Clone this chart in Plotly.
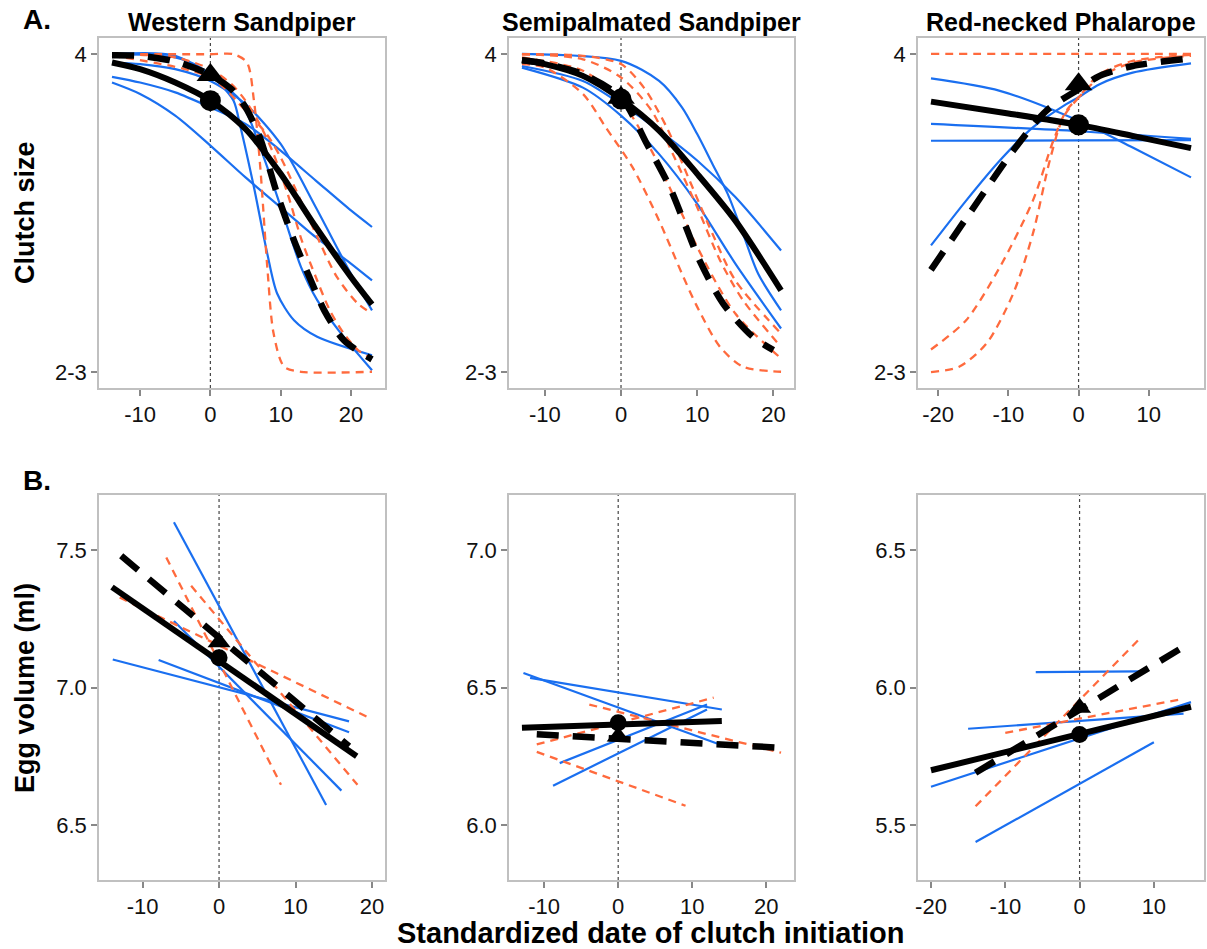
import plotly.graph_objects as go

# ---------------- DATA ----------------
# Row A: clutch size (probability scale, 0 = "2-3", 1 = "4")
ws_clutch_mean_x = [-14, -10, -5, 0, 5, 10, 15, 20, 23]
ws_clutch_mean_y = [0.973, 0.952, 0.910, 0.853, 0.764, 0.623, 0.456, 0.299, 0.213]
ws_clutch_dash_x = [-14, -10, -5, 0, 3, 5, 7, 9.5, 11.9, 14.3, 16.2, 19, 23]
ws_clutch_dash_y = [0.996, 0.994, 0.976, 0.934, 0.889, 0.832, 0.74, 0.56, 0.414, 0.288, 0.194, 0.100, 0.04]
ws_clutch_blue = [
    ([-14, -10, -5, 0, 5, 10, 15, 20, 23], [0.928, 0.910, 0.879, 0.832, 0.780, 0.696, 0.602, 0.508, 0.456]),
    ([-14, -10, -5, 0, 5, 10, 15, 20, 23], [0.910, 0.874, 0.806, 0.712, 0.612, 0.518, 0.424, 0.341, 0.288]),
    ([-14, -5, -1.4, 1.4, 3.3, 4.3, 6.2, 8.1, 9.5, 11.9, 15.2, 23], [0.999, 0.989, 0.957, 0.905, 0.853, 0.769, 0.581, 0.372, 0.247, 0.163, 0.111, 0.053]),
    ([-14, -5, 1, 4.3, 7.6, 10.5, 12.9, 15.2, 18.6, 23], [0.999, 0.994, 0.915, 0.853, 0.675, 0.487, 0.330, 0.226, 0.121, 0.006]),
    ([-14, -10, -5, 0, 5, 10, 15, 20, 23], [0.973, 0.968, 0.952, 0.915, 0.842, 0.717, 0.518, 0.309, 0.194]),
]
ws_clutch_orange = [
    ([-14, 0, 3.3, 5.2, 6.2, 7.1, 8.1, 9, 10.5, 12.9, 23], [0.999, 0.999, 0.999, 0.973, 0.853, 0.644, 0.330, 0.121, 0.017, 0.001, 0.001]),
    ([-14, -5, 0, 3, 5, 7, 9, 11, 13, 15, 17, 19, 21, 23], [0.999, 0.989, 0.952, 0.905, 0.853, 0.780, 0.685, 0.560, 0.414, 0.299, 0.194, 0.121, 0.069, 0.043]),
    ([-14, 0, 5, 8, 10, 12, 15, 18, 21, 23], [0.994, 0.926, 0.822, 0.748, 0.675, 0.581, 0.435, 0.299, 0.215, 0.184]),
]
ws_clutch_circle = (0, 0.853)
ws_clutch_triangle = (0, 0.934)

sp_clutch_mean_x = [-13, -10, -5, 0, 5, 10, 15, 21]
sp_clutch_mean_y = [0.980, 0.968, 0.931, 0.858, 0.759, 0.623, 0.476, 0.257]
sp_clutch_dash_x = [-13, -10, -5, 0, 3.4, 6.4, 8.2, 10.3, 13.4, 17.3, 20]
sp_clutch_dash_y = [0.980, 0.970, 0.936, 0.863, 0.717, 0.581, 0.476, 0.351, 0.215, 0.111, 0.069]
sp_clutch_blue = [
    ([-13, 0, 5, 8, 10, 12, 14, 16, 18, 21], [1.0, 0.978, 0.915, 0.832, 0.748, 0.654, 0.560, 0.435, 0.309, 0.194]),
    ([-13, -5, 0, 5, 10, 15, 21], [0.962, 0.915, 0.842, 0.759, 0.665, 0.550, 0.382]),
    ([-13, -5, 0, 5, 10, 15, 21], [0.957, 0.894, 0.806, 0.685, 0.529, 0.341, 0.137]),
]
sp_clutch_orange = [
    ([-13, -10, -5, -2, 1.5, 5, 8, 10, 13, 16, 21], [0.968, 0.957, 0.874, 0.769, 0.644, 0.476, 0.309, 0.205, 0.079, 0.017, 0.001]),
    ([-13, -5, 0, 4, 8, 10, 15, 21], [0.989, 0.947, 0.853, 0.696, 0.497, 0.393, 0.184, 0.043]),
    ([-13, -5, 0, 4, 7, 10, 13, 16, 21], [0.999, 0.983, 0.926, 0.822, 0.675, 0.518, 0.351, 0.226, 0.079]),
    ([-13, -5, 0, 3, 6, 9, 12, 15, 21], [0.999, 0.994, 0.968, 0.894, 0.769, 0.602, 0.435, 0.288, 0.121]),
]
sp_clutch_circle = (0, 0.858)
sp_clutch_triangle = (0, 0.862)

rp_clutch_mean_x = [-21, -10, 0, 8, 16]
rp_clutch_mean_y = [0.850, 0.813, 0.777, 0.741, 0.704]
rp_clutch_dash_x = [-21, -15.5, -9.3, -4.6, 0, 3, 7.7, 16]
rp_clutch_dash_y = [0.321, 0.499, 0.696, 0.821, 0.889, 0.931, 0.962, 0.986]
rp_clutch_blue = [
    ([-21, -16, -11.2, -6.5, -1.75, 0, 3, 7.7, 16], [0.398, 0.539, 0.665, 0.769, 0.842, 0.864, 0.905, 0.941, 0.970]),
    ([-21, -11.2, 0, 7.7, 16], [0.923, 0.884, 0.790, 0.706, 0.612]),
    ([-21, 0, 16], [0.780, 0.757, 0.733]),
    ([-21, 0, 16], [0.727, 0.728, 0.729]),
]
rp_clutch_orange = [
    ([-21, 0, 16], [1.0, 1.0, 1.0]),
    ([-21, -16, -11.2, -6.5, -3.6, -1.75, 0, 3, 7.7, 16], [0.071, 0.163, 0.330, 0.539, 0.727, 0.821, 0.863, 0.926, 0.973, 0.994]),
    ([-21, -17, -13.1, -9.3, -6.5, -4.1, -2.2, 0, 3, 7.7, 16], [0.0, 0.017, 0.090, 0.247, 0.435, 0.665, 0.800, 0.863, 0.936, 0.978, 0.997]),
]
rp_clutch_circle = (0, 0.777)
rp_clutch_triangle = (0, 0.905)

# Row B: egg volume (ml), straight lines given by end points
ws_egg_mean_x = [-14, 18]
ws_egg_mean_y = [7.365, 6.75]
ws_egg_dash_x = [-12.8, 17]
ws_egg_dash_y = [7.479, 6.786]
ws_egg_blue = [([-5.9, 14.0], [7.601, 6.573]), ([-13.9, 17.0], [7.102, 6.877]),
               ([-7.9, 17.0], [7.100, 6.837]), ([-5.9, 16.0], [7.242, 6.625])]
ws_egg_orange = [([-13.0, 19.9], [7.327, 6.886]), ([-6.9, 8.1], [7.473, 6.646]),
                 ([-3.65, 18.1], [7.37, 6.646])]
ws_egg_circle = (0, 7.108)
ws_egg_triangle = (0, 7.165)

sp_egg_mean_x = [-13, 14]
sp_egg_mean_y = [6.354, 6.378]
sp_egg_dash_x = [-11, 21.8]
sp_egg_dash_y = [6.330, 6.281]
sp_egg_blue = [([-12.8, 14.0], [6.553, 6.290]), ([-11.9, 14.0], [6.535, 6.420]),
               ([-7.9, 12.0], [6.225, 6.438]), ([-8.8, 12.0], [6.143, 6.420])]
sp_egg_orange = [([-3.9, 22.0], [6.438, 6.263]), ([-11.0, 12.9], [6.293, 6.463]),
                 ([-11.0, 9.1], [6.266, 6.070])]
sp_egg_circle = (0, 6.372)
sp_egg_triangle = (0, 6.322)

rp_egg_mean_x = [-20, 15]
rp_egg_mean_y = [5.699, 5.930]
rp_egg_dash_x = [-14, 14]
rp_egg_dash_y = [5.690, 6.148]
rp_egg_blue = [([-5.9, 8.0], [6.056, 6.059]), ([-15.0, 14.0], [5.850, 5.905]),
               ([-20.0, 15.0], [5.639, 5.947]), ([-14.0, 10.0], [5.438, 5.801])]
rp_egg_orange = [([-14.0, 8.0], [5.568, 6.175]), ([-10.0, 14.0], [5.835, 5.959])]
rp_egg_circle = (0, 5.829)
rp_egg_triangle = (0, 5.926)

species = ["Western Sandpiper", "Semipalmated Sandpiper", "Red-necked Phalarope"]
clutch_ticks = [0, 1]
clutch_ticktext = ["2-3", "4"]
egg_ticks = [[6.5, 7.0, 7.5], [6.0, 6.5, 7.0], [5.5, 6.0, 6.5]]
x_ticks = [[-10, 0, 10, 20], [-10, 0, 10, 20], [-20, -10, 0, 10]]

# ---------------- STYLE / LAYOUT ----------------
W, H = 1207, 949
BLUE = "#1a6ff0"
ORANGE = "#ff6a3d"
FONT = "Liberation Sans, Arial, sans-serif"

xdom = [[99 / W, 385 / W], [509 / W, 794 / W], [918 / W, 1204 / W]]
ydomA = [1 - 388 / H, 1 - 38 / H]
ydomB = [1 - 880 / H, 1 - 495 / H]
xrangesA = [[-15.85, 24.85], [-14.7, 22.7], [-22.85, 17.85]]
xrangesB = [[-15.7, 21.7], [-14.75, 23.75], [-21.75, 16.75]]
yrangesB = [[6.3, 7.7], [5.8, 7.2], [5.3, 6.7]]

panels = [
    (ws_clutch_mean_x, ws_clutch_mean_y, ws_clutch_dash_x, ws_clutch_dash_y, ws_clutch_blue, ws_clutch_orange, ws_clutch_circle, ws_clutch_triangle),
    (sp_clutch_mean_x, sp_clutch_mean_y, sp_clutch_dash_x, sp_clutch_dash_y, sp_clutch_blue, sp_clutch_orange, sp_clutch_circle, sp_clutch_triangle),
    (rp_clutch_mean_x, rp_clutch_mean_y, rp_clutch_dash_x, rp_clutch_dash_y, rp_clutch_blue, rp_clutch_orange, rp_clutch_circle, rp_clutch_triangle),
    (ws_egg_mean_x, ws_egg_mean_y, ws_egg_dash_x, ws_egg_dash_y, ws_egg_blue, ws_egg_orange, ws_egg_circle, ws_egg_triangle),
    (sp_egg_mean_x, sp_egg_mean_y, sp_egg_dash_x, sp_egg_dash_y, sp_egg_blue, sp_egg_orange, sp_egg_circle, sp_egg_triangle),
    (rp_egg_mean_x, rp_egg_mean_y, rp_egg_dash_x, rp_egg_dash_y, rp_egg_blue, rp_egg_orange, rp_egg_circle, rp_egg_triangle),
]

fig = go.Figure()
layout = {}
for i, p in enumerate(panels):
    n = i + 1
    xa = "x" if n == 1 else f"x{n}"
    ya = "y" if n == 1 else f"y{n}"
    rowA = i < 3
    shape = "spline" if rowA else "linear"
    mx, my, dx, dy, blues, oranges, circ, tri = p
    for bx, by in blues:
        fig.add_trace(go.Scatter(x=bx, y=by, mode="lines", xaxis=xa, yaxis=ya,
                                 line=dict(color=BLUE, width=2.2, shape=shape, smoothing=0.8)))
    for ox, oy in oranges:
        fig.add_trace(go.Scatter(x=ox, y=oy, mode="lines", xaxis=xa, yaxis=ya,
                                 line=dict(color=ORANGE, width=2.3, dash="8px,6px", shape=shape, smoothing=0.8)))
    fig.add_trace(go.Scatter(x=mx, y=my, mode="lines", xaxis=xa, yaxis=ya,
                             line=dict(color="black", width=6, shape=shape, smoothing=0.8)))
    fig.add_trace(go.Scatter(x=dx, y=dy, mode="lines", xaxis=xa, yaxis=ya,
                             line=dict(color="black", width=6.5, dash="22px,14px", shape=shape, smoothing=0.8)))
    msz = 21 if rowA else 17
    fig.add_trace(go.Scatter(x=[tri[0]], y=[tri[1]], mode="markers", xaxis=xa, yaxis=ya,
                             marker=dict(symbol="triangle-up", size=msz + 3, color="black")))
    fig.add_trace(go.Scatter(x=[circ[0]], y=[circ[1]], mode="markers", xaxis=xa, yaxis=ya,
                             marker=dict(symbol="circle", size=msz, color="black")))

    col = i % 3
    axis_common = dict(showline=True, mirror=True, linecolor="#c0c0c0", linewidth=1.5,
                       showgrid=False, zeroline=False, ticks="outside", ticklen=6,
                       tickwidth=1.5, tickcolor="#888888", automargin=False,
                       tickfont=dict(family=FONT, size=22, color="#111111"))
    xr = xrangesA[col] if rowA else xrangesB[col]
    layout["xaxis" if n == 1 else f"xaxis{n}"] = dict(
        domain=xdom[col], anchor=ya, range=xr, tickmode="array", tickvals=x_ticks[col],
        ticktext=[str(v) for v in x_ticks[col]], **axis_common)
    if rowA:
        layout["yaxis" if n == 1 else f"yaxis{n}"] = dict(
            domain=ydomA, anchor=xa, range=[-0.05, 1.05], tickmode="array",
            tickvals=clutch_ticks, ticktext=clutch_ticktext, **axis_common)
    else:
        layout["yaxis" if n == 1 else f"yaxis{n}"] = dict(
            domain=ydomB, anchor=xa, range=yrangesB[col], tickmode="array",
            tickvals=egg_ticks[col], ticktext=[f"{v:.1f}" for v in egg_ticks[col]], **axis_common)
    fig.add_shape(type="line", xref=xa, yref=f"{ya} domain", x0=0, x1=0, y0=0, y1=1,
                  line=dict(color="#444444", width=1.2, dash="dot"), layer="below")

fig.update_layout(**layout)

ann = []
for col, name in enumerate(species):
    ann.append(dict(text=f"<b>{name}</b>", x=(xdom[col][0] + xdom[col][1]) / 2, y=1 - 22 / H,
                    xref="paper", yref="paper", showarrow=False, xanchor="center", yanchor="middle",
                    font=dict(family=FONT, size=25, color="black")))
ann.append(dict(text="<b>A.</b>", x=37 / W, y=1 - 20 / H, xref="paper", yref="paper", showarrow=False,
                xanchor="center", yanchor="middle", font=dict(family=FONT, size=28, color="black")))
ann.append(dict(text="<b>B.</b>", x=37 / W, y=1 - 480 / H, xref="paper", yref="paper", showarrow=False,
                xanchor="center", yanchor="middle", font=dict(family=FONT, size=28, color="black")))
ann.append(dict(text="<b>Clutch size</b>", x=25 / W, y=1 - 213 / H, xref="paper", yref="paper",
                showarrow=False, textangle=-90, xanchor="center", yanchor="middle",
                font=dict(family=FONT, size=27, color="black")))
ann.append(dict(text="<b>Egg volume (ml)</b>", x=25 / W, y=1 - 688 / H, xref="paper", yref="paper",
                showarrow=False, textangle=-90, xanchor="center", yanchor="middle",
                font=dict(family=FONT, size=27, color="black")))
ann.append(dict(text="<b>Standardized date of clutch initiation</b>", x=651 / W, y=1 - 933 / H,
                xref="paper", yref="paper", showarrow=False, xanchor="center", yanchor="middle",
                font=dict(family=FONT, size=29, color="black")))

fig.update_layout(width=W, height=H, margin=dict(l=0, r=0, t=0, b=0), showlegend=False,
                  paper_bgcolor="white", plot_bgcolor="white", annotations=ann)

fig.write_html("out.html")
